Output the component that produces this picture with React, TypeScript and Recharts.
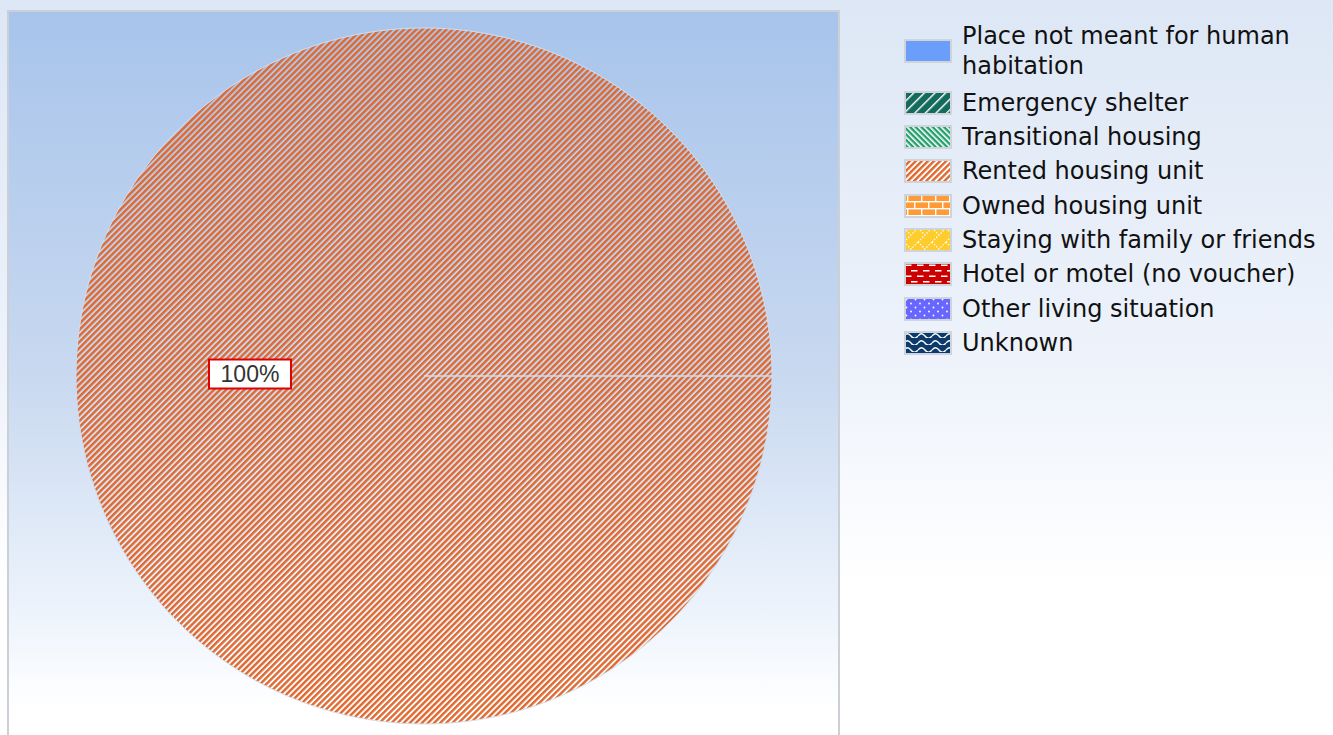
import { Cell, Legend, Pie, PieChart } from 'recharts'

const categories = [
  'Place not meant for human habitation',
  'Emergency shelter',
  'Transitional housing',
  'Rented housing unit',
  'Owned housing unit',
  'Staying with family or friends',
  'Hotel or motel (no voucher)',
  'Other living situation',
  'Unknown',
]
const counts = [0, 0, 0, 1, 0, 0, 0, 0, 0]
const fills = [
  '#6b9dfa',
  'url(#pat-emergency)',
  'url(#pat-transitional)',
  'url(#pat-rented)',
  'url(#pat-owned)',
  'url(#pat-staying)',
  'url(#pat-hotel)',
  'url(#pat-other)',
  'url(#pat-unknown)',
]

const data = categories.map((name, i) => ({ name, value: counts[i] }))

const RADIAN = Math.PI / 180

function Patterns() {
  return (
    <svg width={0} height={0} style={{ position: 'absolute' }}>
      <defs>
        <pattern id="pat-rented" patternUnits="userSpaceOnUse" width={4.3} height={10} patternTransform="rotate(45)">
          <rect width={2.4} height={10} fill="#e0692f" />
        </pattern>
        <pattern id="pat-emergency" patternUnits="userSpaceOnUse" width={7.5} height={10} patternTransform="rotate(45)">
          <rect width={7.5} height={10} fill="#146b5c" />
          <rect width={1.4} height={10} fill="#ffffff" />
        </pattern>
        <pattern id="pat-transitional" patternUnits="userSpaceOnUse" width={4} height={10} patternTransform="rotate(-45)">
          <rect width={4} height={10} fill="#22a06c" />
          <rect width={1.6} height={10} fill="#ffffff" />
        </pattern>
        <pattern id="pat-owned" patternUnits="userSpaceOnUse" width={14} height={14}>
          <rect width={14} height={14} fill="#ff9a38" />
          <rect y={0} width={14} height={1.4} fill="#ffffff" />
          <rect y={7} width={14} height={1.4} fill="#ffffff" />
          <rect x={3} y={0} width={1.4} height={7} fill="#ffffff" />
          <rect x={10} y={7} width={1.4} height={7} fill="#ffffff" />
        </pattern>
        <pattern id="pat-staying" patternUnits="userSpaceOnUse" width={14} height={14}>
          <rect width={14} height={14} fill="#ffcc2e" />
          <path d="M0 14 L14 0 M0 0 L7 7" stroke="#ffffff" strokeWidth={1.2} strokeDasharray="1.5 1.5" fill="none" />
        </pattern>
        <pattern id="pat-hotel" patternUnits="userSpaceOnUse" width={12} height={11}>
          <rect width={12} height={11} fill="#cc0000" />
          <rect x={1} y={2.5} width={6.5} height={1.5} fill="#ffffff" />
          <rect x={7} y={8} width={5} height={1.5} fill="#ffffff" />
          <rect x={0} y={8} width={1.5} height={1.5} fill="#ffffff" />
        </pattern>
        <pattern id="pat-other" patternUnits="userSpaceOnUse" width={9} height={8}>
          <rect width={9} height={8} fill="#6767ff" />
          <circle cx={2.5} cy={2.5} r={0.9} fill="#ffffff" />
          <circle cx={7} cy={6.5} r={0.9} fill="#ffffff" />
        </pattern>
        <pattern id="pat-unknown" patternUnits="userSpaceOnUse" width={14} height={7}>
          <rect width={14} height={7} fill="#0b3a6b" />
          <path d="M0 5 Q3.5 0.5 7 5 T14 5" stroke="#ffffff" strokeWidth={1.3} fill="none" />
        </pattern>
      </defs>
    </svg>
  )
}

function renderLabel(props: any) {
  const { cx, cy, midAngle, outerRadius, percent, value } = props
  if (!value) return null
  const r = outerRadius * 0.5
  const x = cx + r * Math.cos(-midAngle * RADIAN)
  const y = cy + r * Math.sin(-midAngle * RADIAN) - 2
  return (
    <g>
      <rect x={x - 41} y={y - 14.5} width={82} height={29} fill="#ffffff" stroke="#e00000" strokeWidth={2} />
      <text x={x} y={y} dy="0.36em" textAnchor="middle" fill="#333" fontFamily="'Liberation Sans', Arial, sans-serif" fontSize={23}>
        {`${Math.round(percent * 100)}%`}
      </text>
    </g>
  )
}

function renderLegend(props: any) {
  const items = (props.payload ?? [])
    .slice()
    .sort((a: any, b: any) => categories.indexOf(a.value) - categories.indexOf(b.value))
  return (
    <div>
      {items.map((item: any) => {
        const i = categories.indexOf(item.value)
        return (
          <div
            key={item.value}
            style={{ display: 'flex', alignItems: 'center', padding: i === 0 ? '2.2px 0 4.4px' : '2.2px 0' }}
          >
            <svg width={48} height={24} style={{ flex: '0 0 auto', marginRight: 10 }}>
              <rect x={1} y={1} width={46} height={22} fill="#ffffff" stroke="#cfd3da" strokeWidth={2} />
              <rect x={2} y={2} width={44} height={20} fill={fills[i]} />
            </svg>
            <span style={{ width: 368, lineHeight: '30px', fontSize: 24, color: '#111', fontFamily: "'DejaVu Sans', Verdana, sans-serif" }}>
              {item.value}
            </span>
          </div>
        )
      })}
    </div>
  )
}

export default function App() {
  return (
    <div
      style={{
        position: 'absolute',
        left: 0,
        top: 0,
        width: 1333,
        height: 735,
        overflow: 'hidden',
        background: 'linear-gradient(#dde7f5 0%, #eef3fb 50%, #ffffff 80%)',
      }}
    >
      <Patterns />
      <div
        style={{
          position: 'absolute',
          left: 7,
          top: 10,
          width: 829,
          height: 740,
          border: '2px solid #cbcfd6',
          background: 'linear-gradient(#a8c4eb 0%, #c9d9f0 50%, #eef4fc 82%, #ffffff 94%)',
        }}
      />
      <PieChart width={1333} height={735} margin={{ top: 0, right: 0, bottom: 0, left: 0 }} style={{ position: 'absolute', left: 0, top: 0 }}>
        <Pie
          data={data}
          dataKey="value"
          nameKey="name"
          cx={424}
          cy={376}
          outerRadius={348}
          startAngle={0}
          endAngle={360}
          stroke="#d2ddec"
          strokeWidth={1}
          label={renderLabel}
          labelLine={false}
          isAnimationActive={false}
        >
          {data.map((d, i) => (
            <Cell key={d.name} fill={fills[i]} />
          ))}
        </Pie>
        <Legend
          layout="vertical"
          align="right"
          verticalAlign="top"
          itemSorter={null as any}
          content={renderLegend}
          wrapperStyle={{ left: 904, top: 18.8, width: 426 }}
        />
      </PieChart>
    </div>
  )
}
